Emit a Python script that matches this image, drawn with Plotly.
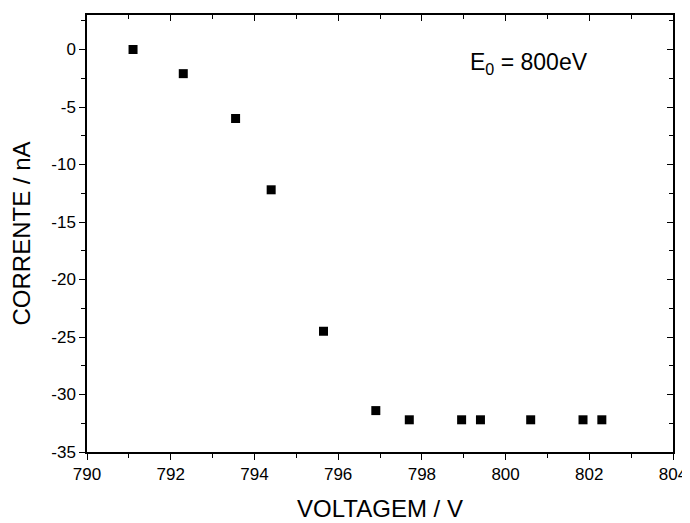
import plotly.graph_objects as go

voltage = [791.1, 792.3, 793.55, 794.4, 795.65, 796.9, 797.7, 798.95, 799.4, 800.6, 801.85, 802.3]
current = [0.0, -2.1, -6.0, -12.2, -24.5, -31.4, -32.2, -32.2, -32.2, -32.2, -32.2, -32.2]

xticks = [790, 792, 794, 796, 798, 800, 802, 804]
xminor = [791, 793, 795, 797, 799, 801, 803]
yticks = [-35, -30, -25, -20, -15, -10, -5, 0]
yticklabels = ["-35", "-30", "-25", "-20", "-15", "-10", "-5", "0"]
yminor = [-32.5, -27.5, -22.5, -17.5, -12.5, -7.5, -2.5, 2.5]

xrange_ = [790, 804]
yrange_ = [-35, 3]
font = "Liberation Sans, Arial, sans-serif"

fig = go.Figure()
fig.add_trace(go.Scatter(x=voltage, y=current, mode="markers",
                         marker=dict(symbol="square", size=9, color="black"),
                         showlegend=False))
fig.add_trace(go.Scatter(x=[xrange_[0]], y=[yrange_[0]], xaxis="x2", yaxis="y2",
                         mode="markers", marker=dict(opacity=0), showlegend=False,
                         hoverinfo="skip"))

common = dict(showgrid=False, zeroline=False, showline=True, linecolor="black",
              linewidth=1.5, tickcolor="black", tickwidth=1.2, automargin=False)

fig.update_layout(
    width=682, height=515,
    margin=dict(l=79, r=17, t=7, b=71),
    paper_bgcolor="white", plot_bgcolor="white",
    font=dict(family=font, color="black"),
    xaxis=dict(range=xrange_, tickvals=xticks, ticktext=[str(v) for v in xticks],
               ticks="outside", ticklen=6,
               minor=dict(tickvals=xminor, ticks="outside", ticklen=4,
                          tickcolor="black", tickwidth=1.2),
               tickfont=dict(size=17), title=dict(text="VOLTAGEM / V", font=dict(size=24), standoff=17),
               **common),
    yaxis=dict(range=yrange_, tickvals=yticks, ticktext=yticklabels, ticks="outside", ticklen=6,
               minor=dict(tickvals=yminor, ticks="outside",
                          ticklen=4, tickcolor="black", tickwidth=1.2),
               tickfont=dict(size=17), title=dict(text="CORRENTE / nA", font=dict(size=24), standoff=18),
               **common),
    xaxis2=dict(range=xrange_, overlaying="x", side="top", anchor="y", tickvals=xticks,
                ticks="inside", ticklen=6, showticklabels=False,
                minor=dict(tickvals=xminor, ticks="inside", ticklen=4,
                           tickcolor="black", tickwidth=1.2),
                **common),
    yaxis2=dict(range=yrange_, overlaying="y", side="right", anchor="x", tickvals=yticks,
                ticks="inside", ticklen=6, showticklabels=False,
                minor=dict(tickvals=yminor, ticks="inside",
                           ticklen=4, tickcolor="black", tickwidth=1.2),
                **common),
)

fig.add_annotation(x=800.55, y=-1.25, xref="x", yref="y", showarrow=False,
                   text="E<sub>0</sub> = 800eV", font=dict(size=23, family=font, color="black"))

fig.write_html("out.html")
